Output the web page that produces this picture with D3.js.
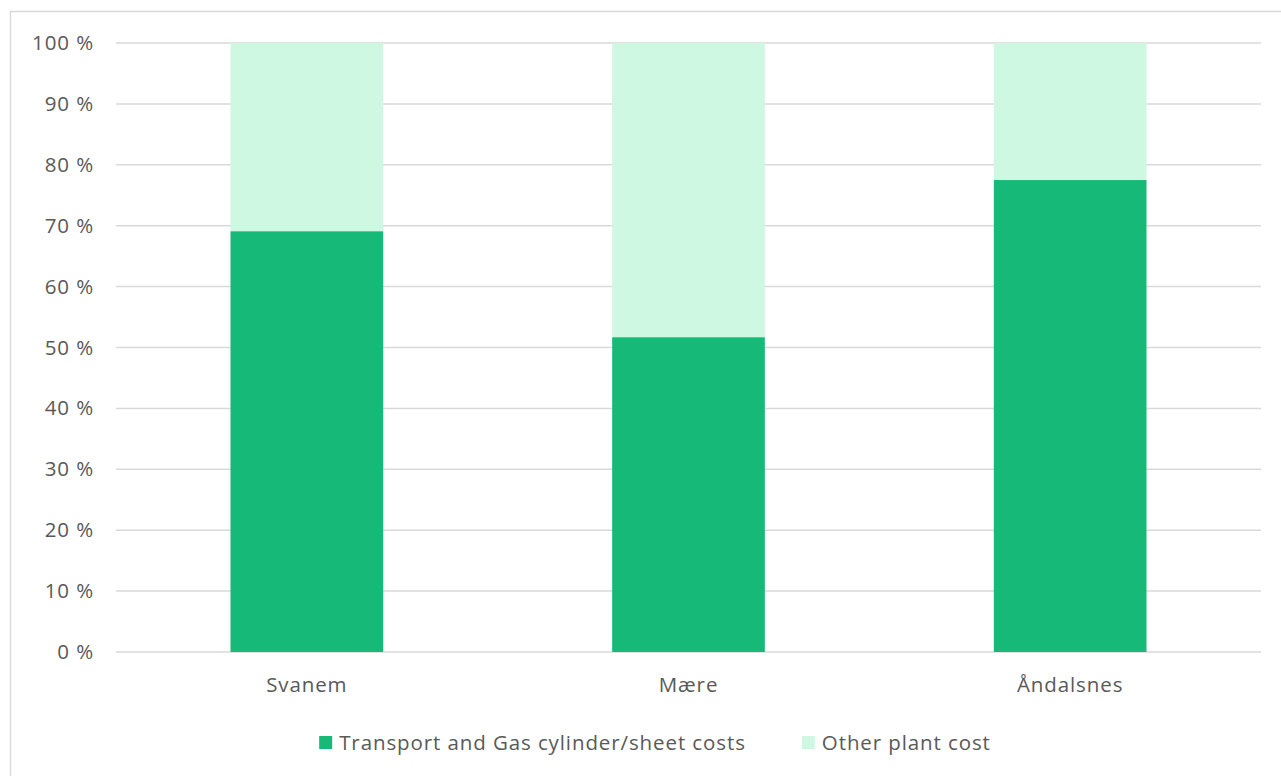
<!DOCTYPE html>
<html>
<head>
<meta charset="utf-8">
<script src="https://cdn.jsdelivr.net/npm/d3@7"></script>
<style>
  html, body { margin: 0; padding: 0; background: #fff; }
  svg { display: block; }
  text { font-family: "Open Sans", sans-serif; fill: #595959; letter-spacing: 0.9px; }
</style>
</head>
<body>
<svg id="chart" width="1281" height="776"></svg>
<script>
// Share of cost per plant (percent)
const categories = ["Svanem", "Mære", "Åndalsnes"];
const transportGas = [69.1, 51.7, 77.5];
const otherPlant = [30.9, 48.3, 22.5];
const seriesNames = ["Transport and Gas cylinder/sheet costs", "Other plant cost"];
const seriesColors = ["#17b978", "#cef8e2"];
const yTicks = [0, 10, 20, 30, 40, 50, 60, 70, 80, 90, 100];

const fontSize = "20.5px";
const svg = d3.select("#chart");

// chart frame
svg.append("rect")
  .attr("x", 10.5).attr("y", 11.5)
  .attr("width", 1300).attr("height", 800)
  .attr("fill", "#fff").attr("stroke", "#d9d9d9").attr("stroke-width", 1.5);

const plot = { left: 116, right: 1261, top: 43, bottom: 652 };

const x = d3.scaleBand()
  .domain(categories)
  .range([plot.left, plot.right])
  .paddingInner(0.6)
  .paddingOuter(0.3);

const y = d3.scaleLinear()
  .domain([0, 100])
  .range([plot.bottom, plot.top]);

// gridlines
svg.append("g")
  .selectAll("line")
  .data(yTicks)
  .join("line")
  .attr("x1", plot.left).attr("x2", plot.right)
  .attr("y1", d => y(d)).attr("y2", d => y(d))
  .attr("stroke", "#d9d9d9").attr("stroke-width", 1.5);

// y axis labels
const yAxis = d3.axisLeft(y).tickValues(yTicks).tickSize(0).tickPadding(0)
  .tickFormat(d => d + " %");
const gy = svg.append("g").attr("transform", `translate(94,0)`).call(yAxis);
gy.select(".domain").remove();
gy.selectAll("text")
  .style("font-size", fontSize)
  .attr("fill", "#595959")
  .style("font-family", "'Open Sans', sans-serif");

// stacked data
const rows = categories.map((c, i) => ({ cat: c, a: transportGas[i], b: otherPlant[i] }));
const stack = d3.stack().keys(["a", "b"]);
const layers = stack(rows);

svg.append("g")
  .selectAll("g")
  .data(layers)
  .join("g")
  .attr("fill", (d, i) => seriesColors[i])
  .selectAll("rect")
  .data(d => d)
  .join("rect")
  .attr("x", d => x(d.data.cat))
  .attr("width", x.bandwidth())
  .attr("y", d => y(d[1]))
  .attr("height", d => y(d[0]) - y(d[1]));

// x axis labels
const xAxis = d3.axisBottom(x).tickSize(0).tickPadding(0);
const gx = svg.append("g").attr("transform", `translate(0,${plot.bottom + 25})`).call(xAxis);
gx.select(".domain").remove();
gx.selectAll("text")
  .style("font-size", fontSize)
  .attr("fill", "#595959")
  .style("font-family", "'Open Sans', sans-serif");

// legend
const legend = svg.append("g");
const items = legend.selectAll("g")
  .data(seriesNames)
  .join("g");
items.append("rect")
  .attr("width", 13).attr("height", 13)
  .attr("y", -13)
  .attr("fill", (d, i) => seriesColors[i]);
items.append("text")
  .attr("x", 20)
  .attr("y", 1)
  .style("font-size", fontSize)
  .text(d => d);

let offset = 0;
const widths = [];
items.each(function () {
  const w = d3.select(this).select("text").node().getComputedTextLength() + 20;
  widths.push(w);
});
const gap = 56;
const total = d3.sum(widths) + gap * (widths.length - 1);
const startX = 655 - total / 2;
items.attr("transform", (d, i) => {
  const tx = startX + offset;
  offset += widths[i] + gap;
  return `translate(${tx},749)`;
});
</script>
</body>
</html>
